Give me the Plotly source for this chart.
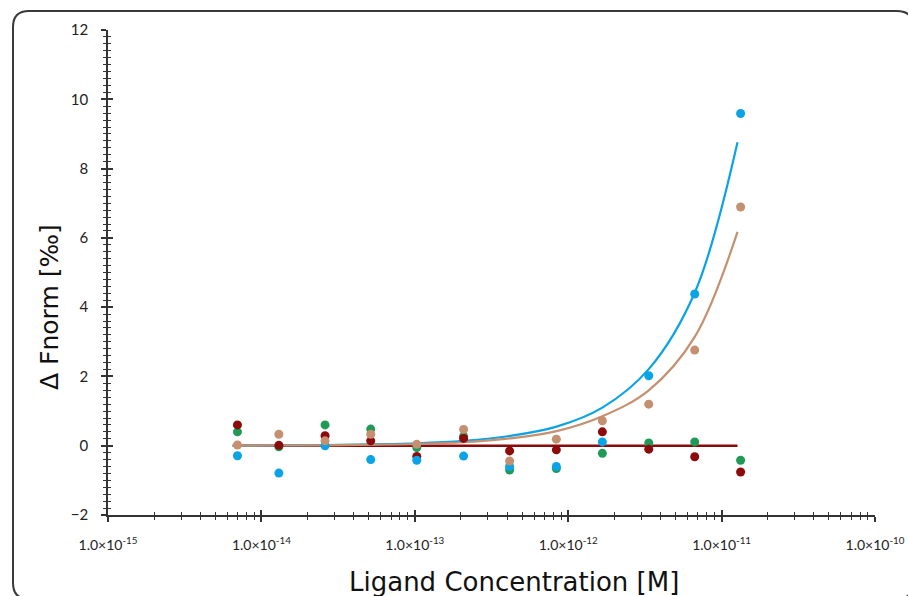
import plotly.graph_objects as go

# ---- data ----
conc = [6.98e-15, 1.30e-14, 2.60e-14, 5.16e-14, 1.03e-13, 2.08e-13,
        4.15e-13, 8.37e-13, 1.67e-12, 3.35e-12, 6.68e-12, 1.33e-11]
blue_pts = [-0.29, -0.79, 0.00, -0.40, -0.42, -0.30, -0.60, -0.60, 0.11, 2.02, 4.38, 9.59]
tan_pts = [0.02, 0.33, 0.14, 0.33, 0.04, 0.47, -0.44, 0.19, 0.72, 1.20, 2.76, 6.89]
green_pts = [0.40, -0.03, 0.60, 0.48, -0.05, 0.27, -0.70, -0.66, -0.22, 0.08, 0.11, -0.42]
red_pts = [0.60, 0.01, 0.29, 0.14, -0.31, 0.21, -0.15, -0.12, 0.40, -0.10, -0.32, -0.76]

fit_conc = [6.5e-15, 1.3e-14, 2.6e-14, 5.2e-14, 1.03e-13, 2.08e-13,
            4.15e-13, 8.4e-13, 1.67e-12, 3.35e-12, 6.7e-12, 1.27e-11]
blue_fit = [0.0, 0.01, 0.02, 0.04, 0.07, 0.14, 0.28, 0.55, 1.10, 2.21, 4.43, 8.76]
tan_fit = [0.0, 0.01, 0.01, 0.03, 0.05, 0.10, 0.21, 0.42, 0.85, 1.60, 3.15, 6.17]
red_fit = [0.0, 0.0, 0.0, 0.0, 0.0, 0.0, 0.0, 0.0, 0.0, 0.0, 0.0, 0.0]

x_tickvals = [1e-15, 1e-14, 1e-13, 1e-12, 1e-11, 1e-10]
x_ticktext = ["1.0×10<sup>-15</sup>", "1.0×10<sup>-14</sup>", "1.0×10<sup>-13</sup>",
              "1.0×10<sup>-12</sup>", "1.0×10<sup>-11</sup>", "1.0×10<sup>-10</sup>"]

BLUE = "#0aa3e6"
TAN = "#c49070"
GREEN = "#1f9a57"
RED = "#8c0a0a"
AX = "#333333"

fig = go.Figure()

# fit lines
fig.add_trace(go.Scatter(x=fit_conc, y=red_fit, mode="lines", line=dict(color=RED, width=2.5),
                         hoverinfo="skip"))
fig.add_trace(go.Scatter(x=fit_conc, y=blue_fit, mode="lines", line=dict(color=BLUE, width=2.2, shape="spline"),
                         hoverinfo="skip"))
fig.add_trace(go.Scatter(x=fit_conc, y=tan_fit, mode="lines", line=dict(color=TAN, width=2.2, shape="spline"),
                         hoverinfo="skip"))

# points
for ys, col in [(green_pts, GREEN), (red_pts, RED), (blue_pts, BLUE)]:
    fig.add_trace(go.Scatter(x=conc, y=ys, mode="markers",
                             marker=dict(color=col, size=9, line=dict(width=0))))
fig.add_trace(go.Scatter(x=conc, y=tan_pts, mode="markers", xaxis="x2", yaxis="y2",
                         marker=dict(color=TAN, size=9, line=dict(width=0))))

W, H = 908, 596
L, R, T, B = 108, 33, 30, 81
pw, ph = W - L - R, H - T - B


def px(x):
    return (x - L) / pw


def py(y):
    return (H - B - y) / ph


# rounded frame
fl, ft, fr, fb, rad = 13, 11, 913, 599, 16
path = (f"M {px(fl)},{py(ft + rad)} Q {px(fl)},{py(ft)} {px(fl + rad)},{py(ft)} "
        f"L {px(fr - rad)},{py(ft)} Q {px(fr)},{py(ft)} {px(fr)},{py(ft + rad)} "
        f"L {px(fr)},{py(fb - rad)} Q {px(fr)},{py(fb)} {px(fr - rad)},{py(fb)} "
        f"L {px(fl + rad)},{py(fb)} Q {px(fl)},{py(fb)} {px(fl)},{py(fb - rad)} Z")

TICKFONT = "Lato, DejaVu Sans"

xcommon = dict(type="log", range=[-15, -10], showgrid=False, zeroline=False, automargin=False,
               tickvals=x_tickvals, ticktext=x_ticktext,
               tickcolor=AX, tickwidth=1.5, ticklen=5)
ycommon = dict(range=[-2, 12], showgrid=False, zeroline=False, tick0=0, dtick=2, automargin=False,
               tickcolor=AX, tickwidth=1.5, ticklen=5)

fig.update_layout(
    width=W, height=H, autosize=False,
    margin=dict(l=L, r=R, t=T, b=B, pad=0, autoexpand=False),
    paper_bgcolor="white", plot_bgcolor="white",
    showlegend=False,
    font=dict(family="DejaVu Sans", color="#222222"),
    xaxis=dict(**xcommon, showline=True, linecolor=AX, linewidth=1.5, ticks="outside",
               tickfont=dict(size=14, family=TICKFONT, color="#222222"),
               ticklabelstandoff=11,
               minor=dict(ticks="outside", ticklen=3, tickwidth=1, tickcolor=AX, dtick="D1", showgrid=False)),
    xaxis2=dict(**xcommon, overlaying="x", anchor="y2", side="bottom", showline=False, ticks="inside",
                showticklabels=False,
                minor=dict(ticks="inside", ticklen=3, tickwidth=1, tickcolor=AX, dtick="D1", showgrid=False)),
    yaxis=dict(**ycommon, showline=True, linecolor=AX, linewidth=1.5, ticks="outside",
               tickfont=dict(size=15, family=TICKFONT, color="#222222"),
               ticklabelstandoff=10,
               minor=dict(ticks="outside", ticklen=3, tickwidth=1, tickcolor=AX, dtick=0.2, showgrid=False)),
    yaxis2=dict(**ycommon, overlaying="y", anchor="x2", side="left", showline=False, ticks="inside",
                showticklabels=False,
                minor=dict(ticks="inside", ticklen=3, tickwidth=1, tickcolor=AX, dtick=0.2, showgrid=False)),
    shapes=[dict(type="path", path=path, xref="paper", yref="paper",
                 line=dict(color="#3a3a3a", width=2), fillcolor="rgba(0,0,0,0)", layer="below")],
    annotations=[
        dict(text="Ligand Concentration [M]", x=px(514), y=py(582), xref="paper", yref="paper",
             showarrow=False, xanchor="center", yanchor="middle",
             font=dict(size=26, family="DejaVu Sans", color="#111111")),
        dict(text="Δ Fnorm [‰]", x=px(49), y=py(307), xref="paper", yref="paper",
             showarrow=False, xanchor="center", yanchor="middle", textangle=-90,
             font=dict(size=25, family="DejaVu Sans", color="#111111")),
    ],
)

fig.write_html("out.html")
